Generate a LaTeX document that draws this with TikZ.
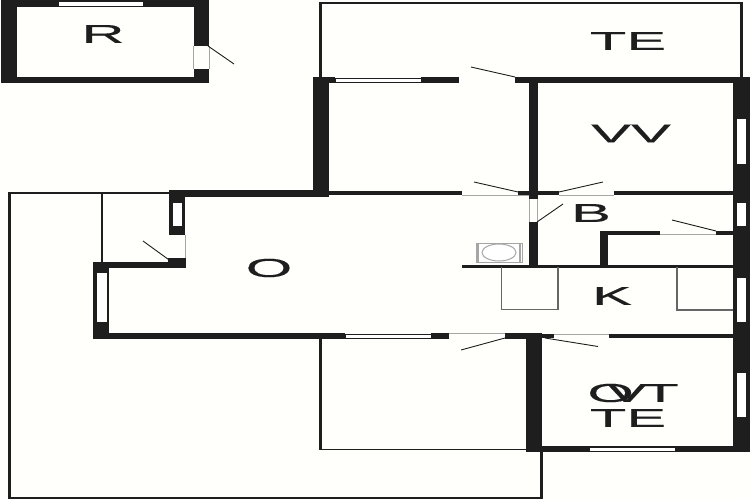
\documentclass[tikz,border=0pt]{standalone}
\usepackage{fontspec}
\setmainfont{Liberation Sans}
\newfontfamily\labfont[FakeBold=0.35]{Liberation Sans}
\definecolor{wallc}{HTML}{1E1E1E}
\tikzset{
  wall/.style={fill=wallc,draw=none},
  win/.style={fill=white,draw=wallc,line width=.5pt},
  opening/.style={fill=white,draw=none},
  thinl/.style={draw=wallc,line width=2.6pt,line cap=butt,line join=miter},
  hairl/.style={draw=wallc,line width=1.5pt,line cap=butt},
  leaf/.style={draw=wallc,line width=.9pt},
  greyl/.style={draw=black!35,line width=.7pt},
  roomlabel/.style={text=wallc,inner sep=0pt,font=\labfont\fontsize{26}{26}\selectfont,xscale=2.3,transform shape}
}
\begin{document}
\begin{tikzpicture}[x=1pt,y=-1pt]
\useasboundingbox (0,0) rectangle (750,500);
\fill[white!99!yellow] (0,0) rectangle (750,500);
% outer thin lines
\draw[thinl] (9.5,498) -- (9.5,193);
\draw[hairl] (8,193) -- (169,193);
\draw[hairl] (8,498) -- (542,498);
\draw[thinl] (541.5,499) -- (541.5,450);
\draw[thinl] (102,193) -- (102,263);
\draw[thinl] (320.5,78) -- (320.5,3.2);
\draw[hairl] (319,3.2) -- (743,3.2);
\draw[thinl] (741.5,3) -- (741.5,78);
\draw[thinl] (320.5,338) -- (320.5,449.5);
\draw[hairl] (319,449.5) -- (527,449.5);
% R room
\fill[wall] (1,0) rectangle (16.5,83);
\fill[wall] (1,0) rectangle (209,7);
\fill[wall] (193.5,0) rectangle (209,46);
\fill[wall] (193.5,69) rectangle (209,83);
\fill[wall] (1,77) rectangle (209,83);
\draw[win] (58,1) rectangle (143,6);
\draw[greyl] (193.5,46) -- (193.5,69);
\draw[greyl] (209,46) -- (209,69);
\coordinate (d1a) at (208,46); \coordinate (d1b) at (234,64);
\draw[leaf] (d1a) -- (d1b);
% top wall
\fill[wall] (313,77) rectangle (335,83);
\fill[wall] (421,77) rectangle (459,83);
\fill[wall] (515,77) rectangle (750,83);
\draw[win] (335,78.5) rectangle (421,82);
\coordinate (d2a) at (515,77); \coordinate (d2b) at (471,67);
\draw[leaf] (d2a) -- (d2b);
\fill[wall] (313,77) rectangle (329,197);
% middle wall
\fill[wall] (169,190) rectangle (329,197);
\fill[wall] (329,191.5) rectangle (462,195);
\fill[wall] (518,191.5) rectangle (559,195);
\fill[wall] (614,191.5) rectangle (733,195);
\fill[wall] (529,83) rectangle (538,199);
\coordinate (d3a) at (518,192); \coordinate (d3b) at (474,182);
\draw[leaf] (d3a) -- (d3b);
\coordinate (d4a) at (559,192); \coordinate (d4b) at (603,182);
\draw[leaf] (d4a) -- (d4b);
\draw[greyl] (462,195.5) -- (529,195.5);
\draw[greyl] (559,195.5) -- (614,195.5);
% B door
\draw[greyl] (529.3,199) -- (529.3,222);
\draw[greyl] (537.7,199) -- (537.7,222);
\fill[wall] (529,222) rectangle (538,265);
\coordinate (d5a) at (537,222); \coordinate (d5b) at (563,204);
\draw[leaf] (d5a) -- (d5b);
% right wall
\fill[wall] (733,77) rectangle (750,452);
\draw[win] (736,118) rectangle (746,164);
\draw[win] (736,202) rectangle (746,226);
\draw[win] (736,277) rectangle (746,322);
\draw[win] (736,372) rectangle (746,417);
% bath inner
\fill[wall] (599.5,231) rectangle (608,265);
\fill[wall] (599.5,231) rectangle (660,235);
\fill[wall] (716,231) rectangle (733,235);
\draw[greyl] (660,234.5) -- (716,234.5);
\coordinate (d6a) at (716,231); \coordinate (d6b) at (672,220);
\draw[leaf] (d6a) -- (d6b);
% kitchen
\fill[wall] (462,264.5) rectangle (733,267.5);
\draw[draw=black!60,line width=1.6pt] (501.3,267) -- (501.3,309.3) -- (558,309.3) -- (558,267);
\draw[draw=black!60,line width=1.6pt] (677,267) -- (677,310) -- (733,310);
% stove
\draw[black!35,line width=.7pt,fill=white] (476,243) rectangle (522,262);
\draw[black!35,line width=2pt] (478,243.5) -- (478,261.5);
\draw[black!35,line width=2pt] (520,243.5) -- (520,261.5);
\draw[black!35,line width=1pt] (499,252.5) ellipse (17 and 8.5);
% lower wall
\fill[wall] (93,332.5) rectangle (345,339);
\draw[win] (345,334) rectangle (431,338);
\fill[wall] (431,332.5) rectangle (449,339);
\fill[wall] (505,332.5) rectangle (541,339);
\fill[wall] (541,334) rectangle (554,338);
\fill[wall] (609,334) rectangle (733,338);
\draw[greyl] (449,333) -- (505,333);
\draw[greyl] (554,334) -- (609,334);
\coordinate (d7a) at (505,338); \coordinate (d7b) at (461,350);
\draw[leaf] (d7a) -- (d7b);
\coordinate (d8a) at (545,338); \coordinate (d8b) at (598,346.5);
\draw[leaf] (d8a) -- (d8b);
% lower right room
\fill[wall] (526,332.5) rectangle (541.5,452);
\fill[wall] (526,446) rectangle (750,452);
\draw[win] (589,447.5) rectangle (675,451);
% closet and left
\fill[wall] (169,190) rectangle (185,235);
\draw[win] (172,202) rectangle (182,226);
\fill[wall] (168,258) rectangle (186,268);
\fill[wall] (93,262) rectangle (186,268);
\draw[greyl] (185,235) -- (185,258);
\coordinate (d9a) at (168.5,259.5); \coordinate (d9b) at (143,241);
\draw[leaf] (d9a) -- (d9b);
\fill[wall] (93,262) rectangle (109,339);
\draw[win] (96.5,272) rectangle (107,322.5);
% labels
\node[roomlabel] (lR) at (103,34) {R};
\node[roomlabel] (lTE) at (628,41) {TE};
\node[roomlabel] (lVV) at (631,133.5) {VV};
\node[roomlabel] (lB) at (591,213) {B};
\node[roomlabel] (lO) at (269,268) {O};
\node[roomlabel] (lK) at (612,296) {K};
\node[roomlabel] (lOVT) at (633,393) {O\kern-.45em V\kern-.08em T};
\node[roomlabel] (lTE2) at (628,418) {TE};
\end{tikzpicture}
\end{document}
